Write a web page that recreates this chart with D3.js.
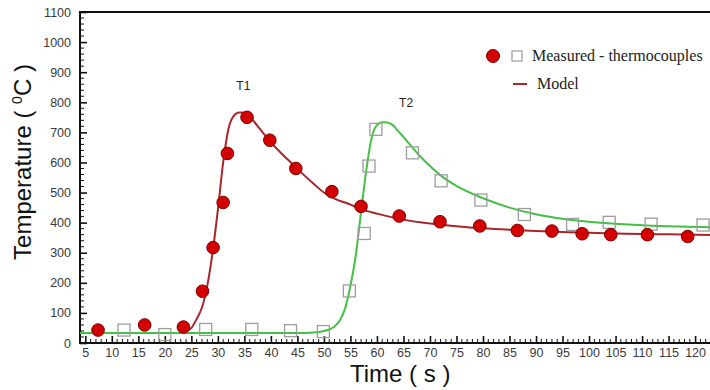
<!DOCTYPE html>
<html><head><meta charset="utf-8">
<script src="https://cdn.jsdelivr.net/npm/d3@7/dist/d3.min.js"></script>
<style>body{margin:0;background:#fff}svg{display:block}</style>
</head><body><svg id="c" width="710" height="390"></svg>
<script>
// ---- data ----
const xTicks = [5,10,15,20,25,30,35,40,45,50,55,60,65,70,75,80,85,90,95,100,105,110,115,120];
const yTicks = [0,100,200,300,400,500,600,700,800,900,1000,1100];
const t1MeasuredTime = [7.4,16.2,23.5,27.1,29.1,31.0,31.8,35.5,39.8,44.7,51.5,57.0,64.2,71.9,79.4,86.5,93.0,98.7,104.1,111.0,118.6];
const t1MeasuredTemp = [43,60,53,172,317,467,630,750,674,580,503,454,422,403,389,374,372,363,360,360,354];
const t2MeasuredTime = [12.3,20.0,27.7,36.4,43.7,49.9,54.8,57.6,58.5,59.8,66.7,72.1,79.6,87.8,96.9,103.8,111.7,121.5];
const t2MeasuredTemp = [43,28,45,45,41,38,173,364,588,710,632,539,475,427,394,401,395,392];
const t1ModelTime = [4,20,22,23,24,25,26,27,28,29,30,31,32,33,34,35,36,37,38,40,42,44,46,48,50,52,55,57,60,65,70,75,80,85,90,95,100,105,110,115,123];
const t1ModelTemp = [33,33,33,34,38,50,80,118,190,300,442,600,712,755,766,765,752,732,710,667,630,596,562,530,500,480,460,445,430,410,397,388,381,376,372,369,366,364,362,361,359];
const t2ModelTime = [4,45,48,50,51,52,53,54,55,56,57,58,59,60,61,62,63,64,65,66,68,70,72,75,80,85,90,95,100,105,110,115,123];
const t2ModelTemp = [33,33,35,40,45,55,75,115,190,290,435,575,682,724,734,733,724,704,685,664,623,588,557,522,481,450,428,413,403,396,391,388,385];
const legendLabels = ["Measured - thermocouples","Model"];
const curveLabels = [{name:"T1", t:34.8, v:840},{name:"T2", t:65.5, v:785}];

// ---- chart ----
const svg = d3.select("#c");
const x = d3.scaleLinear().domain([4,123]).range([80,711]);
const y = d3.scaleLinear().domain([0,1100]).range([343,12]);
const redLine = "#a8262a", green = "#44c044";

// minor ticks
const g = svg.append("g");
g.selectAll(".mx").data(d3.range(5,123,1).filter(v=>v%5!==0)).join("line")
  .attr("x1",d=>x(d)).attr("x2",d=>x(d)).attr("y1",343).attr("y2",339)
  .attr("stroke","#111").attr("stroke-width",1);
g.selectAll(".my").data(d3.range(20,1100,20).filter(v=>v%100!==0)).join("line")
  .attr("y1",d=>y(d)).attr("y2",d=>y(d)).attr("x1",80).attr("x2",84)
  .attr("stroke","#111").attr("stroke-width",1);

// major ticks using axes (inward)
const xAxis = d3.axisBottom(x).tickValues(xTicks).tickFormat(d3.format("d")).tickSizeInner(-7).tickSizeOuter(0).tickPadding(5);
const yAxis = d3.axisLeft(y).tickValues(yTicks).tickFormat(d3.format("d")).tickSizeInner(-7).tickSizeOuter(0).tickPadding(9);
const gx = svg.append("g").attr("transform","translate(0,343)").call(xAxis);
const gy = svg.append("g").attr("transform","translate(80,0)").call(yAxis);
[gx,gy].forEach(a=>{
  a.select(".domain").remove();
  a.selectAll(".tick line").attr("stroke","#111").attr("stroke-width",1.6);
  a.selectAll(".tick text").attr("font-family","Liberation Sans, Arial, sans-serif").attr("font-size","12.5px").attr("fill","#3a3a3a");
});

// frame
svg.append("line").attr("x1",80).attr("x2",80).attr("y1",12).attr("y2",344).attr("stroke","#111").attr("stroke-width",2);
svg.append("line").attr("x1",79).attr("x2",711).attr("y1",343).attr("y2",343).attr("stroke","#111").attr("stroke-width",2);
svg.append("line").attr("x1",79).attr("x2",711).attr("y1",12).attr("y2",12).attr("stroke","#111").attr("stroke-width",2);

// model lines
const line = d3.line().x(d=>x(d[0])).y(d=>y(d[1])).curve(d3.curveMonotoneX);
svg.append("path").datum(t1ModelTime.map((t,i)=>[t,t1ModelTemp[i]]))
  .attr("d",line).attr("fill","none").attr("stroke",redLine).attr("stroke-width",2);
svg.append("path").datum(t2ModelTime.map((t,i)=>[t,t2ModelTemp[i]]))
  .attr("d",line).attr("fill","none").attr("stroke",green).attr("stroke-width",2);

// measured
const sq = 12;
svg.selectAll(".sq").data(t2MeasuredTime.map((t,i)=>[t,t2MeasuredTemp[i]])).join("rect")
  .attr("x",d=>x(d[0])-sq/2).attr("y",d=>y(d[1])-sq/2).attr("width",sq).attr("height",sq)
  .attr("fill","none").attr("stroke","#9c9c9c").attr("stroke-width",1.3);
svg.selectAll(".ci").data(t1MeasuredTime.map((t,i)=>[t,t1MeasuredTemp[i]])).join("circle")
  .attr("cx",d=>x(d[0])).attr("cy",d=>y(d[1])).attr("r",6.3)
  .attr("fill","#d40000").attr("stroke","#7a0000").attr("stroke-width",1);

// curve labels
svg.selectAll(".cl").data(curveLabels).join("text")
  .attr("x",d=>x(d.t)).attr("y",d=>y(d.v)).attr("text-anchor","middle")
  .attr("font-family","Liberation Sans, Arial, sans-serif").attr("font-size","12px").attr("fill","#222")
  .text(d=>d.name);

// legend
svg.append("circle").attr("cx",493).attr("cy",56).attr("r",6.5).attr("fill","#d40000").attr("stroke","#7a0000");
svg.append("rect").attr("x",512).attr("y",51).attr("width",10).attr("height",10).attr("fill","none").attr("stroke","#9c9c9c").attr("stroke-width",1.2);
svg.append("line").attr("x1",513).attr("x2",527).attr("y1",84).attr("y2",84).attr("stroke",redLine).attr("stroke-width",2);
svg.append("text").attr("x",532).attr("y",61).attr("font-family","Liberation Serif, Times New Roman, serif").attr("font-size","16px").attr("fill","#222").text(legendLabels[0]);
svg.append("text").attr("x",537).attr("y",89).attr("font-family","Liberation Serif, Times New Roman, serif").attr("font-size","16px").attr("fill","#222").text(legendLabels[1]);

// axis titles
svg.append("text").attr("x",350).attr("y",382).attr("font-family","Liberation Sans, Arial, sans-serif").attr("font-size","24px").attr("fill","#111").text("Time ( s )");
const yt = svg.append("text").attr("transform","translate(31,162) rotate(-90)").attr("text-anchor","middle")
  .attr("font-family","Liberation Sans, Arial, sans-serif").attr("font-size","24px").attr("fill","#111");
yt.append("tspan").text("Temperature ( ");
yt.append("tspan").attr("font-size","14px").attr("dy","-9").text("0");
yt.append("tspan").attr("dy","9").text("C )");
</script></body></html>
